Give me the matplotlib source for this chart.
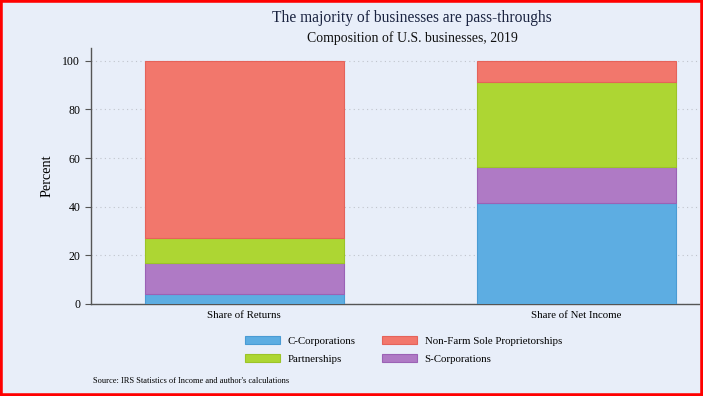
import numpy as np
import matplotlib.pyplot as plt
from matplotlib.patches import Rectangle

plt.rcParams['font.family'] = ['Liberation Serif', 'DejaVu Serif']

# Data
categories = ['Share of Returns', 'Share of Net Income']
c_corp = [4.0, 41.6]
s_corp = [12.8, 14.6]
partnerships = [10.3, 35.1]
non_farm = [72.9, 8.7]

bg = '#e8eef9'
colors = {'C-Corporations': '#5dade2', 'S-Corporations': '#af7ac5',
          'Partnerships': '#add633', 'Non-Farm Sole Proprietorships': '#f2776c'}
edges = {'C-Corporations': '#4a9bd4', 'S-Corporations': '#9b62b5',
         'Partnerships': '#9cc428', 'Non-Farm Sole Proprietorships': '#e5635a'}

fig = plt.figure(figsize=(7.03, 3.96), dpi=100, facecolor=bg)
ax = fig.add_axes([0.129, 0.233, 0.866, 0.647])
ax.set_facecolor(bg)

x = np.arange(len(categories))
bottom = np.zeros(len(categories))
handles = {}
for name, vals in [('C-Corporations', c_corp), ('S-Corporations', s_corp),
                   ('Partnerships', partnerships), ('Non-Farm Sole Proprietorships', non_farm)]:
    h = ax.bar(x, vals, width=0.6, bottom=bottom, color=colors[name],
               edgecolor=edges[name], linewidth=0.8, label=name, zorder=3)
    handles[name] = h
    bottom += np.array(vals)

ax.set_xlim(-0.4625, 1.37)
ax.set_ylim(0, 105.5)
ax.set_yticks([0, 20, 40, 60, 80, 100])
ax.set_xticks(x)
ax.set_xticklabels(categories, fontsize=7.8)
ax.tick_params(axis='x', length=0, pad=5)
ax.tick_params(axis='y', labelsize=8.5, length=4, color='#555555')
ax.grid(axis='y', linestyle=(0, (1, 3)), color='#c0c4cc', linewidth=0.8, zorder=0)
ax.set_ylabel('Percent', fontsize=10.3, labelpad=6)
for s in ['top', 'right']:
    ax.spines[s].set_visible(False)
for s in ['left', 'bottom']:
    ax.spines[s].set_color('#555555')
    ax.spines[s].set_linewidth(1.0)

fig.text(0.586, 0.955, 'The majority of businesses are pass-throughs', ha='center', va='center',
         fontsize=11.2, color='#1a2340')
fig.text(0.586, 0.905, 'Composition of U.S. businesses, 2019', ha='center', va='center',
         fontsize=9.9, color='#111111')

order = ['C-Corporations', 'Partnerships', 'Non-Farm Sole Proprietorships', 'S-Corporations']
fig.legend([handles[k] for k in order], order, loc='center', bbox_to_anchor=(0.574, 0.117),
           ncol=2, frameon=False, fontsize=7.8, handlelength=3.2, handleheight=0.85,
           columnspacing=2.4, labelspacing=0.75, handletextpad=0.75)

fig.text(0.132, 0.038, "Source: IRS Statistics of Income and author's calculations",
         fontsize=6.0, va='center')

fig.patches.append(Rectangle((0, 0), 1, 1, transform=fig.transFigure, fill=False,
                             edgecolor='red', linewidth=4, zorder=10))

fig.savefig('out.png', dpi=100, facecolor=bg)
